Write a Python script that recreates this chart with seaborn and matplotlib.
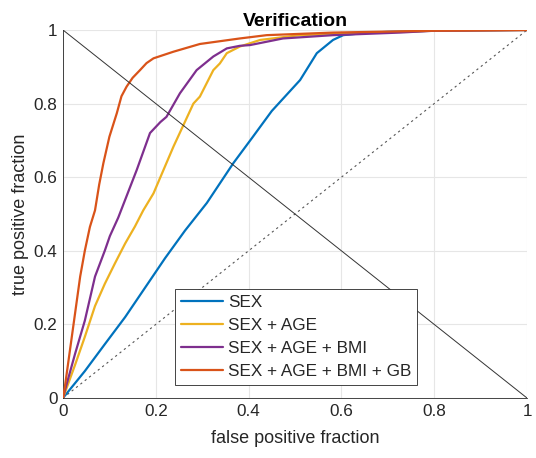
import numpy as np
import pandas as pd
import matplotlib
matplotlib.use("Agg")
import matplotlib.pyplot as plt
import seaborn as sns

# ---- data ----
labels = ["SEX", "SEX + AGE", "SEX + AGE + BMI", "SEX + AGE + BMI + GB"]
colors = ["#0072BD", "#EDB120", "#7E2F8E", "#D95319"]

sex_fpr = [0, 0.047, 0.09, 0.134, 0.177, 0.22, 0.263, 0.31, 0.367, 0.407, 0.45, 0.511, 0.547, 0.582, 0.604, 0.65, 0.7, 0.8, 1.0]
sex_tpr = [0, 0.073, 0.146, 0.22, 0.30, 0.38, 0.455, 0.53, 0.638, 0.706, 0.78, 0.864, 0.937, 0.973, 0.986, 0.992, 0.995, 0.998, 1.0]

age_fpr = [0, 0.026, 0.047, 0.069, 0.09, 0.112, 0.134, 0.155, 0.173, 0.195, 0.238, 0.281, 0.295, 0.324, 0.338, 0.353, 0.381, 0.425, 0.511, 0.6, 0.8, 1.0]
age_tpr = [0, 0.09, 0.166, 0.25, 0.31, 0.366, 0.42, 0.466, 0.51, 0.556, 0.683, 0.80, 0.819, 0.891, 0.909, 0.937, 0.955, 0.973, 0.986, 0.99, 0.998, 1.0]

bmi_fpr = [0, 0.004, 0.026, 0.047, 0.069, 0.09, 0.101, 0.119, 0.159, 0.1875, 0.21, 0.223, 0.252, 0.288, 0.324, 0.353, 0.381, 0.403, 0.474, 0.582, 0.726, 0.8, 1.0]
bmi_tpr = [0, 0.02, 0.12, 0.21, 0.33, 0.40, 0.44, 0.49, 0.62, 0.72, 0.75, 0.764, 0.828, 0.891, 0.928, 0.95, 0.957, 0.959, 0.977, 0.986, 0.993, 0.998, 1.0]

gb_fpr = [0, 0.004, 0.015, 0.026, 0.037, 0.047, 0.058, 0.069, 0.078, 0.087, 0.1, 0.116, 0.126, 0.137, 0.15, 0.166, 0.18, 0.195, 0.238, 0.295, 0.381, 0.439, 0.582, 0.8, 1.0]
gb_tpr = [0, 0.03, 0.13, 0.23, 0.33, 0.40, 0.465, 0.51, 0.58, 0.638, 0.71, 0.774, 0.82, 0.846, 0.87, 0.891, 0.91, 0.923, 0.941, 0.962, 0.977, 0.986, 0.993, 0.998, 1.0]

x_ticks = [0, 0.2, 0.4, 0.6, 0.8, 1]
tick_labels = ["0", "0.2", "0.4", "0.6", "0.8", "1"]

series = [(sex_fpr, sex_tpr), (age_fpr, age_tpr), (bmi_fpr, bmi_tpr), (gb_fpr, gb_tpr)]
frames = []
for lab, (fx, ty) in zip(labels, series):
    frames.append(pd.DataFrame({"fpr": fx, "tpr": ty, "model": lab}))
df = pd.concat(frames, ignore_index=True)

sns.set_style("white")
plt.rcParams["font.family"] = ["Liberation Sans", "DejaVu Sans"]

fig = plt.figure(figsize=(5.36, 4.58), dpi=100)
ax = fig.add_axes([63 / 536, 60 / 458, 464 / 536, 368 / 458])

# reference diagonals
ax.plot([0, 1], [0, 1], linestyle=(0, (2, 3)), color="#555555", linewidth=0.8, zorder=2)
ax.plot([0, 1], [1, 0], color="#333333", linewidth=0.7, zorder=5)

sns.lineplot(data=df, x="fpr", y="tpr", hue="model", hue_order=labels,
             palette=colors, sort=False, estimator=None, units="model",
             linewidth=1.6, ax=ax, zorder=3)

ax.set_xlim(0, 1)
ax.set_ylim(0, 1)
ax.set_xticks(x_ticks)
ax.set_xticklabels(tick_labels)
ax.set_yticks(x_ticks)
ax.set_yticklabels(tick_labels)
ax.grid(True, color="#e6e6e6", linewidth=0.8)
ax.set_axisbelow(True)
for s in ["top", "right"]:
    ax.spines[s].set_visible(False)
for s in ["left", "bottom"]:
    ax.spines[s].set_color("#262626")
    ax.spines[s].set_linewidth(0.6)
ax.tick_params(axis="both", direction="in", length=3, width=0.6, colors="#262626",
               labelsize=12.3, labelcolor="#262626", pad=4)

ax.set_xlabel("false positive fraction", fontsize=13, color="#262626", labelpad=8)
ax.set_ylabel("true positive fraction", fontsize=13, color="#262626", labelpad=3)
ax.set_title("Verification", fontsize=14, fontweight="bold", color="black", pad=3)

handles, lbls = ax.get_legend_handles_labels()
leg = ax.legend(handles, lbls, loc="lower left", bbox_to_anchor=(0.241, 0.035),
                fontsize=12.3, frameon=True, fancybox=False, framealpha=1,
                edgecolor="#262626", handlelength=2.45, handletextpad=0.3,
                labelspacing=0.47, borderpad=0.35, borderaxespad=0)
leg.get_frame().set_linewidth(0.6)
for h in leg.get_lines():
    h.set_linewidth(1.6)

fig.savefig("out.png", dpi=100)
